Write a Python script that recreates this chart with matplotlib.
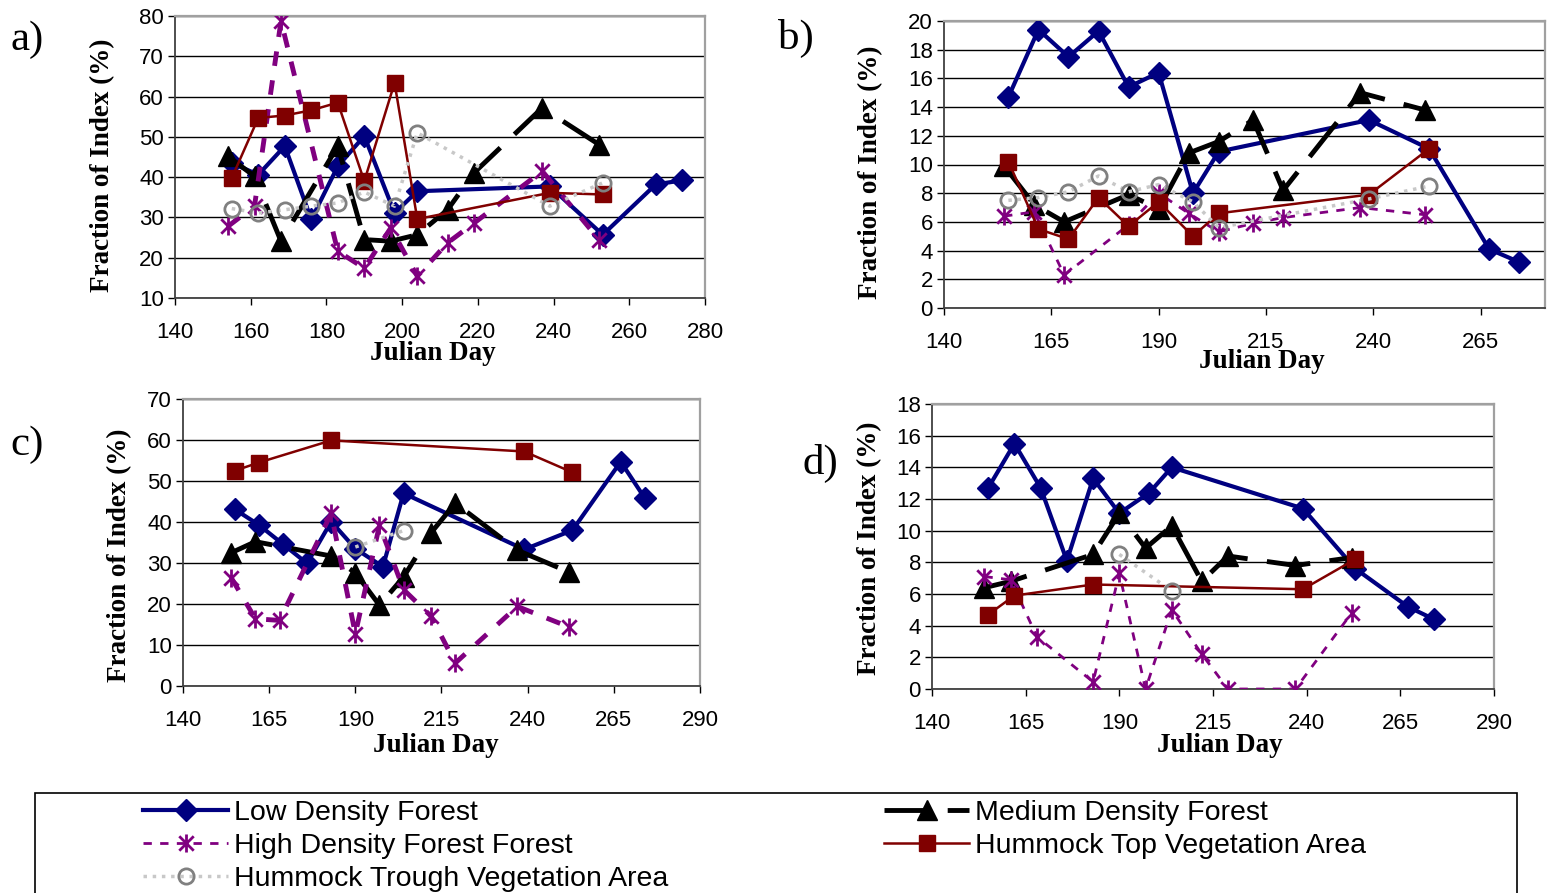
import matplotlib
matplotlib.use('Agg')
import matplotlib.pyplot as plt
from matplotlib.path import Path
from matplotlib.patches import Rectangle

# Julian days of the samples for each series
days_low = [155, 162, 169, 176, 183, 190, 198, 204, 239, 253, 267, 274]
days_med = [154, 161, 168, 183, 190, 197, 204, 212, 219, 237, 252]
days_med_cd = [154, 161, 183, 190, 197, 204, 212, 219, 237, 252]
days_high = [154, 161, 168, 183, 190, 197, 204, 212, 219, 237, 252]
days_hum = [155, 162, 169, 176, 183, 190, 198, 204, 239, 253]
days_top_cd = [155, 162, 183, 239, 253]
days_trough_cd = [190, 204]

# a)
a_low = [43.5, 40.6, 47.7, 29.5, 42.7, 50.2, 31.1, 36.5, 37.7, 25.7, 38.2, 39.2]
a_med = [45.2, 40.2, 24.1, 47.7, 24.5, 24.1, 25.7, 31.9, 41.1, 57.2, 48.1]
a_high = [27.8, 32.8, 78.8, 21.6, 17.4, 27.4, 15.4, 23.7, 28.6, 41.5, 24.5]
a_top = [39.8, 54.7, 55.3, 56.6, 58.5, 39.0, 63.4, 29.6, 36.1, 35.7]
a_trough = [32.2, 31.1, 31.9, 32.8, 33.6, 36.3, 32.8, 51.0, 32.8, 38.6]

# b)
b_low = [14.7, 19.4, 17.5, 19.3, 15.4, 16.4, 8.0, 10.9, 13.1, 11.1, 4.1, 3.2]
b_med = [9.9, 7.2, 6.0, 7.9, 6.9, 10.8, 11.6, 13.1, 8.2, 15.0, 13.8]
b_high = [6.4, 6.7, 2.3, 5.8, 8.0, 6.6, 5.3, 5.9, 6.3, 7.0, 6.5]
b_top = [10.2, 5.5, 4.8, 7.7, 5.7, 7.4, 5.0, 6.6, 7.9, 11.1]
b_trough = [7.5, 7.7, 8.1, 9.2, 8.1, 8.6, 7.4, 5.6, 7.6, 8.5]

# c)
c_low = [43.1, 39.3, 34.6, 29.9, 40.1, 33.5, 29.1, 47.0, 33.3, 38.0, 54.7, 45.8]
c_med = [32.5, 35.2, 31.7, 27.6, 19.7, 26.6, 37.4, 44.6, 33.1, 27.8]
c_high = [26.4, 16.4, 16.0, 42.1, 12.7, 39.2, 23.5, 17.0, 5.6, 19.4, 14.4]
c_top = [52.5, 54.5, 59.9, 57.2, 52.1]
c_trough = [33.9, 37.9]

# d)
d_low = [12.7, 15.5, 12.7, 8.1, 13.3, 11.1, 12.4, 14.0, 11.4, 7.6, 5.2, 4.4]
d_med = [6.4, 6.8, 8.5, 11.1, 8.9, 10.3, 6.8, 8.4, 7.8, 8.3]
d_high = [7.1, 6.9, 3.3, 0.45, 7.3, 0.0, 5.0, 2.2, 0.0, 0.0, 4.8]
d_top = [4.7, 5.9, 6.6, 6.3, 8.2]
d_trough = [8.5, 6.2]

labels = ['Low Density Forest', 'Medium Density Forest', 'High Density Forest Forest',
          'Hummock Top Vegetation Area', 'Hummock Trough Vegetation Area']

W, H = 1551, 893
fig = plt.figure(figsize=(W / 100, H / 100), dpi=100)

# asterisk marker like excel: x with a vertical bar
star = Path([(0, -1), (0, 1), (-0.8, -0.8), (0.8, 0.8), (-0.8, 0.8), (0.8, -0.8)],
            [Path.MOVETO, Path.LINETO, Path.MOVETO, Path.LINETO, Path.MOVETO, Path.LINETO])


def panel(l, t, r, b, low, med, high, top, trough, dmed, dtop, dtrough,
          xlim, xticks, ylim, yticks, high_lw, ylab_xy, xlab_xy):
    ax = fig.add_axes([l / W, 1 - b / H, (r - l) / W, (b - t) / H])
    ax.plot(days_low, low, color='#000080', lw=3.0, marker='D', ms=11, zorder=3)
    ax.plot(dmed, med, color='black', lw=3.5, marker='^', ms=15,
            dashes=(9, 4), zorder=4)
    ax.plot(days_high, high, color='#800080', lw=high_lw, marker=star, ms=13,
            mew=2, mec='#800080', dashes=(3, 3), zorder=5)
    ax.plot(dtop, top, color='#800000', lw=1.8, marker='s', ms=11, zorder=6)
    ax.plot(dtrough, trough, color='#c8c8c8', lw=2.5, ls=':', marker='o', ms=11,
            mfc='none', mec='#808080', mew=2, zorder=7)
    ax.set_xlim(xlim)
    ax.set_ylim(ylim)
    ax.set_xticks(xticks)
    ax.set_yticks(yticks)
    ax.yaxis.grid(True, color='black', lw=1)
    ax.set_axisbelow(True)
    for s in ['top', 'right']:
        ax.spines[s].set_color('#a0a0a0')
        ax.spines[s].set_linewidth(1.6)
    for s in ['left', 'bottom']:
        ax.spines[s].set_color('#404040')
        ax.spines[s].set_linewidth(1.3)
    ax.tick_params(direction='out', length=5, width=1, labelsize=16,
                   labelfontfamily='Liberation Sans')
    ax.tick_params(axis='x', pad=12)
    ax.tick_params(axis='y', pad=3)
    ax.set_xlabel('Julian Day', fontsize=19.5, fontweight='bold',
                  fontfamily='Liberation Serif')
    ax.set_ylabel('Fraction of Index (%)', fontsize=19.5, fontweight='bold',
                  fontfamily='Liberation Serif')
    # label positions given in figure pixels
    ax.yaxis.set_label_coords((ylab_xy[0] - l) / (r - l), (b - ylab_xy[1]) / (b - t))
    ax.yaxis.label.set_va('center')
    ax.xaxis.set_label_coords((xlab_xy[0] - l) / (r - l), (b - xlab_xy[1]) / (b - t))
    ax.xaxis.label.set_va('center')
    return ax


ax_a = panel(175, 16, 705, 298, a_low, a_med, a_high, a_top, a_trough,
             days_med, days_hum, days_hum, (140, 280), range(140, 281, 20),
             (10, 80), range(10, 81, 10), 3.5, (103, 165), (433, 353))
ax_b = panel(944, 21, 1545, 308, b_low, b_med, b_high, b_top, b_trough,
             days_med, days_hum, days_hum, (140, 280), range(140, 266, 25),
             (0, 20), range(0, 21, 2), 2.0, (871, 172), (1262, 362))
ax_c = panel(183, 399, 700, 686, c_low, c_med, c_high, c_top, c_trough,
             days_med_cd, days_top_cd, days_trough_cd, (140, 290), range(140, 291, 25),
             (0, 70), range(0, 71, 10), 3.5, (120, 555), (436, 746))
ax_d = panel(932, 404, 1494, 689, d_low, d_med, d_high, d_top, d_trough,
             days_med_cd, days_top_cd, days_trough_cd, (140, 290), range(140, 291, 25),
             (0, 18), range(0, 19, 2), 2.0, (870, 548), (1220, 746))

for lab, x, y in [('a)', 10, 40), ('b)', 778, 38), ('c)', 10, 445), ('d)', 802, 463)]:
    fig.text(x / W, 1 - y / H, lab, fontsize=31, fontfamily='Liberation Serif', va='center')

# legend frame
fig.patches.append(Rectangle((35 / W, -0.02), (1517 - 35) / W, (893 - 793) / H + 0.02,
                             transform=fig.transFigure, fill=False, edgecolor='black', lw=1.2))

h = ax_b.get_lines()
leg_kw = dict(frameon=False, handlelength=3.0, handletextpad=0.2,
              labelspacing=0.24, borderaxespad=0, borderpad=0,
              prop={'family': 'Liberation Sans', 'size': 20.5})
fig.legend([h[0], h[2], h[4]], [labels[0], labels[2], labels[4]],
           loc='upper left', bbox_to_anchor=(143 / W, 1 - 800 / H), **leg_kw)
fig.legend([h[1], h[3]], [labels[1], labels[3]],
           loc='upper left', bbox_to_anchor=(884 / W, 1 - 800 / H), **leg_kw)

fig.savefig('out.png', dpi=100)
